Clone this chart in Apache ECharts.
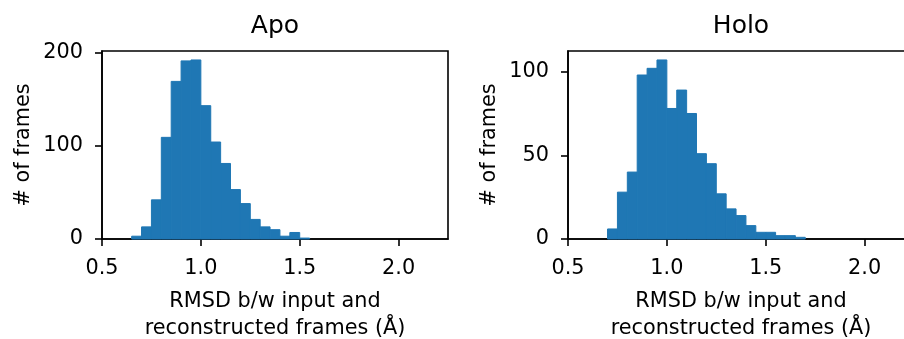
<!DOCTYPE html>
<html>
<head>
<meta charset="utf-8">
<script src="https://cdn.jsdelivr.net/npm/echarts@6/dist/echarts.min.js"></script>
<style>
  html, body { margin: 0; padding: 0; background: #fff; }
  #chart { width: 904px; height: 339px; }
</style>
</head>
<body>
<div id="chart"></div>
<script>
// bin edges (RMSD, Å) and counts
var apoEdges = [0.65, 0.70, 0.75, 0.80, 0.85, 0.90, 0.95, 1.00, 1.05, 1.10, 1.15, 1.20, 1.25, 1.30, 1.35, 1.40, 1.45, 1.50, 1.55]
var apoCounts = [3, 13, 42, 109, 169, 191, 192, 143, 104, 81, 53, 38, 21, 13, 10, 3, 7, 1]

var holoEdges = [0.70, 0.75, 0.80, 0.85, 0.90, 0.95, 1.00, 1.05, 1.10, 1.15, 1.20, 1.25, 1.30, 1.35, 1.40, 1.45, 1.50, 1.55, 1.60, 1.65, 1.70]
var holoCounts = [6, 28, 40, 98, 102, 107, 78, 89, 75, 51, 45, 27, 18, 14, 8, 4, 4, 2, 2, 1]

var xTicks = [0.5, 1.0, 1.5, 2.0]
var apoYTicks = [0, 100, 200]
var holoYTicks = [0, 50, 100]

var FONT = 'DejaVu Sans'
var BLUE = '#1f77b4'

function toBins (edges, counts) {
  var out = []
  for (var i = 0; i < counts.length; i++) {
    out.push([edges[i], edges[i + 1], counts[i]])
  }
  return out
}

function renderBin (params, api) {
  var lo = api.coord([api.value(0), 0])
  var hi = api.coord([api.value(1), api.value(2)])
  return {
    type: 'rect',
    shape: { x: lo[0], y: hi[1], width: hi[0] - lo[0], height: lo[1] - hi[1] },
    style: { fill: BLUE, stroke: BLUE, lineWidth: 1 }
  }
}

function xAxisOf (idx) {
  return {
    type: 'value',
    gridIndex: idx,
    min: 0.5,
    max: 2.25,
    splitLine: { show: false },
    axisLine: { show: true, onZero: false, lineStyle: { color: '#000', width: 1.6 } },
    axisTick: { show: true, length: 7, lineStyle: { color: '#000', width: 1.6 }, customValues: xTicks },
    axisLabel: {
      color: '#000', fontFamily: FONT, fontSize: 20.8, margin: 19,
      customValues: xTicks,
      formatter: function (v) { return v.toFixed(1) }
    },
    name: 'RMSD b/w input and\nreconstructed frames (Å)',
    nameLocation: 'middle',
    nameGap: 49,
    nameTextStyle: { color: '#000', fontFamily: FONT, fontSize: 20.8, lineHeight: 27 }
  }
}

function yAxisOf (idx, max, ticks) {
  return {
    type: 'value',
    gridIndex: idx,
    min: 0,
    max: max,
    splitLine: { show: false },
    axisLine: { show: true, lineStyle: { color: '#000', width: 1.6 } },
    axisTick: { show: true, length: 7, lineStyle: { color: '#000', width: 1.6 }, customValues: ticks },
    axisLabel: { color: '#000', fontFamily: FONT, fontSize: 20.8, margin: 19, customValues: ticks },
    name: '# of frames',
    nameLocation: 'middle',
    nameRotate: 90,
    nameGap: 68,
    nameTextStyle: { color: '#000', fontFamily: FONT, fontSize: 20.8 }
  }
}

var myChart = echarts.init(document.getElementById('chart'))
myChart.setOption({
  animation: false,
  title: [
    { text: 'Apo', left: 275, top: 14, textAlign: 'center', padding: 0,
      textStyle: { color: '#000', fontFamily: FONT, fontSize: 25, fontWeight: 'normal' } },
    { text: 'Holo', left: 741, top: 14, textAlign: 'center', padding: 0,
      textStyle: { color: '#000', fontFamily: FONT, fontSize: 25, fontWeight: 'normal' } }
  ],
  grid: [
    { left: 102, top: 51, width: 346, height: 188, show: true, borderColor: '#000', borderWidth: 1.6, containLabel: false, outerBoundsMode: 'none' },
    { left: 568, top: 51, width: 346, height: 188, show: true, borderColor: '#000', borderWidth: 1.6, containLabel: false, outerBoundsMode: 'none' }
  ],
  xAxis: [xAxisOf(0), xAxisOf(1)],
  yAxis: [yAxisOf(0, 201.6, apoYTicks), yAxisOf(1, 112.35, holoYTicks)],
  series: [
    {
      type: 'custom',
      xAxisIndex: 0,
      yAxisIndex: 0,
      renderItem: renderBin,
      encode: { x: [0, 1], y: 2 },
      data: toBins(apoEdges, apoCounts)
    },
    {
      type: 'custom',
      xAxisIndex: 1,
      yAxisIndex: 1,
      renderItem: renderBin,
      encode: { x: [0, 1], y: 2 },
      data: toBins(holoEdges, holoCounts)
    }
  ]
}, true)
</script>
</body>
</html>
